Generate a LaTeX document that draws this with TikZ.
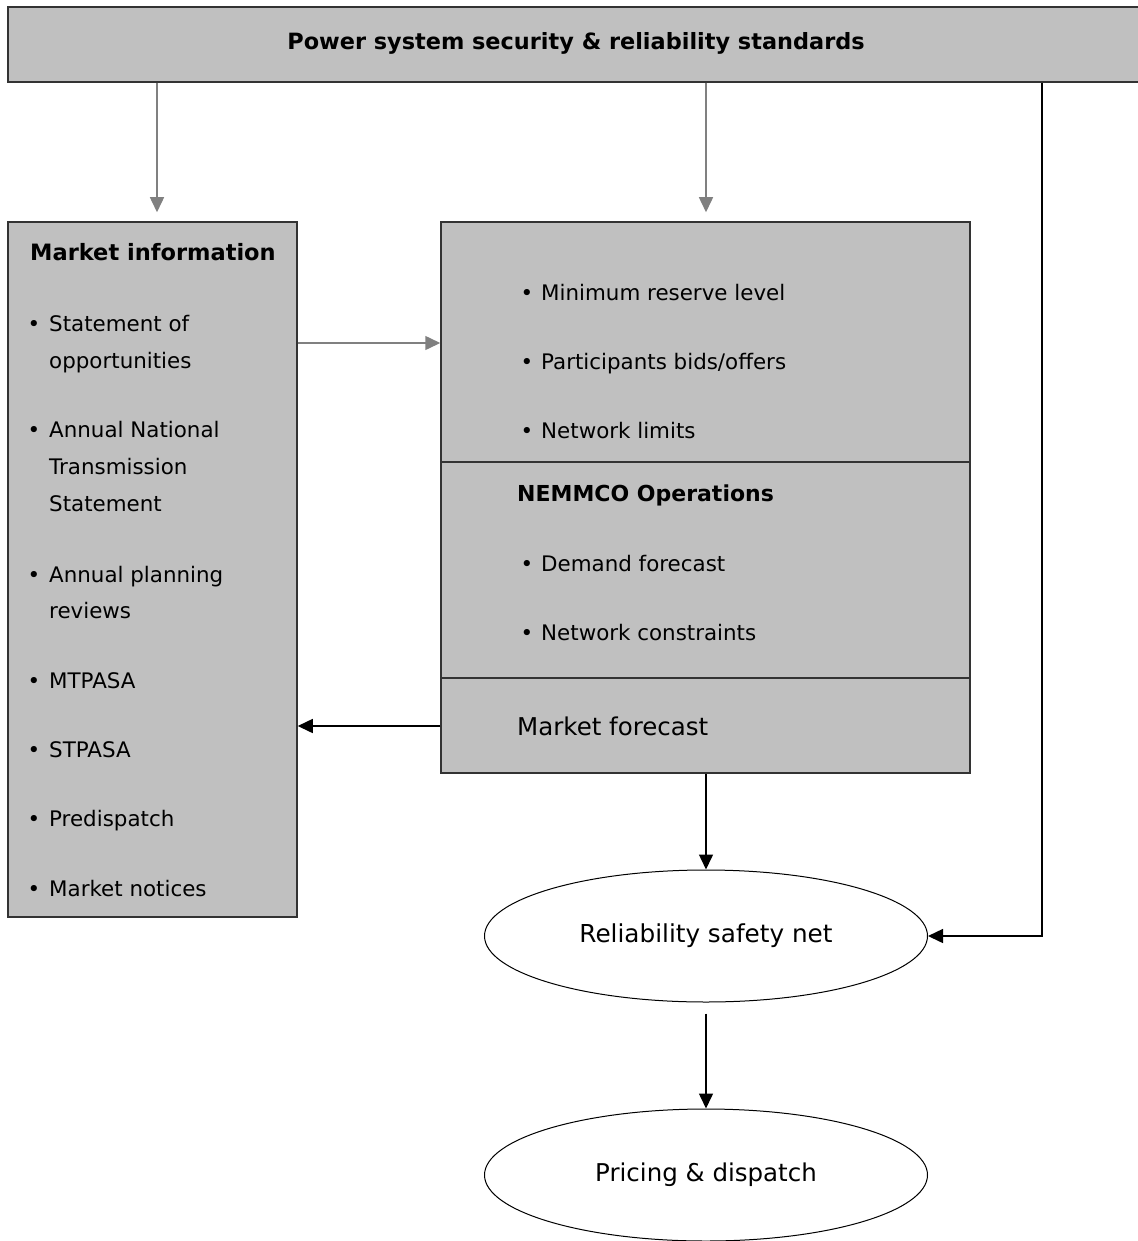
\documentclass[tikz,border=0pt]{standalone}
\usepackage{fontspec}
\setmainfont{DejaVu Sans}
\usetikzlibrary{shapes.geometric,arrows.meta}
\definecolor{boxgray}{HTML}{C0C0C0}
\definecolor{arrgray}{HTML}{808080}
\definecolor{edge}{HTML}{333333}
\tikzset{
  panel/.style={draw=edge, line width=1.5pt, fill=boxgray, rectangle, inner sep=0pt},
  oval/.style={draw=black, line width=1pt, fill=white, ellipse, inner sep=0pt, minimum width=443pt, minimum height=132pt, font=\fontsize{24.7}{28}\selectfont},
  garrow/.style={draw=arrgray, line width=1.5pt, -{Triangle[length=15pt,width=14pt]}},
  barrow/.style={draw=black, line width=1.5pt, -{Triangle[length=15pt,width=14pt]}},
  body/.style={anchor=base west, inner sep=0pt, font=\fontsize{21.4}{25}\selectfont},
  bul/.style={anchor=base, inner sep=0pt, font=\fontsize{21.4}{25}\selectfont},
  head/.style={anchor=base west, inner sep=0pt, font=\bfseries\fontsize{22.5}{26}\selectfont},
}
\begin{document}
\begin{tikzpicture}[x=1pt,y=-1pt]
\useasboundingbox (0,0) rectangle (1137,1241);
% top bar
\node[panel, minimum width=1140pt, minimum height=75pt] (top) at (578,44.5) {};
\node[anchor=base, inner sep=0pt, font=\bfseries\fontsize{22.4}{26}\selectfont] (toptxt) at (576,50) {Power system security \& reliability standards};
% left box
\node[panel, minimum width=289pt, minimum height=695pt] (lb) at (152.5,569.5) {};
% right box
\node[panel, minimum width=529pt, minimum height=551pt] (rb) at (705.5,497.5) {};
\coordinate (d1) at (441,462);
\coordinate (d2) at (441,678);
\draw[draw=edge, line width=1.5pt] (d1) -- (d1 -| rb.east);
\draw[draw=edge, line width=1.5pt] (d2) -- (d2 -| rb.east);
% ellipses
\node[oval] (rsn) at (706,936) {Reliability safety net};
\node[oval, font=\fontsize{24.5}{28}\selectfont] (pd) at (706,1175) {Pricing \& dispatch};
% left text
\node[head] (mi) at (30,261) {Market information};
\node[bul] (b1) at (34,331) {•};
\node[body] (t1a) at (49,331) {Statement of};
\node[body] (t1b) at (49,368) {opportunities};
\node[bul] (b2) at (34,437) {•};
\node[body] (t2a) at (49,437) {Annual National};
\node[body] (t2b) at (49,474) {Transmission};
\node[body] (t2c) at (49,511) {Statement};
\node[bul] (b3) at (34,582) {•};
\node[body] (t3a) at (49,582) {Annual planning};
\node[body] (t3b) at (49,618) {reviews};
\node[bul] (b4) at (34,688) {•};
\node[body] (t4) at (49,688) {MTPASA};
\node[bul] (b5) at (34,757) {•};
\node[body] (t5) at (49,757) {STPASA};
\node[bul] (b6) at (34,826) {•};
\node[body] (t6) at (49,826) {Predispatch};
\node[bul] (b7) at (34,896) {•};
\node[body] (t7) at (49,896) {Market notices};
% right text
\node[bul] (r1b) at (527,300) {•};
\node[body] (r1) at (541,300) {Minimum reserve level};
\node[bul] (r2b) at (527,369) {•};
\node[body] (r2) at (541,369) {Participants bids/offers};
\node[bul] (r3b) at (527,438) {•};
\node[body] (r3) at (541,438) {Network limits};
\node[head, font=\bfseries\fontsize{22}{26}\selectfont] (nem) at (517,501) {NEMMCO Operations};
\node[bul] (r4b) at (527,571) {•};
\node[body] (r4) at (541,571) {Demand forecast};
\node[bul] (r5b) at (527,640) {•};
\node[body] (r5) at (541,640) {Network constraints};
\node[body, font=\fontsize{24.5}{28}\selectfont] (mf) at (517,735) {Market forecast};
% connectors
\draw[garrow, shorten >=9pt] (157,0 |- top.south) -- (157,0 |- lb.north);
\draw[garrow, shorten >=9pt] (706,0 |- top.south) -- (706,0 |- rb.north);
\draw[garrow] (lb.east |- 0,343) -- (rb.west |- 0,343);
\draw[barrow] (rb.west |- 0,726) -- (lb.east |- 0,726);
\draw[barrow] (rsn.north |- rb.south) -- (rsn.north);
\draw[barrow] (1042,0 |- top.south) |- (rsn.east);
\draw[barrow, shorten <=11pt] (rsn.south) -- (pd.north);
\end{tikzpicture}
\end{document}
